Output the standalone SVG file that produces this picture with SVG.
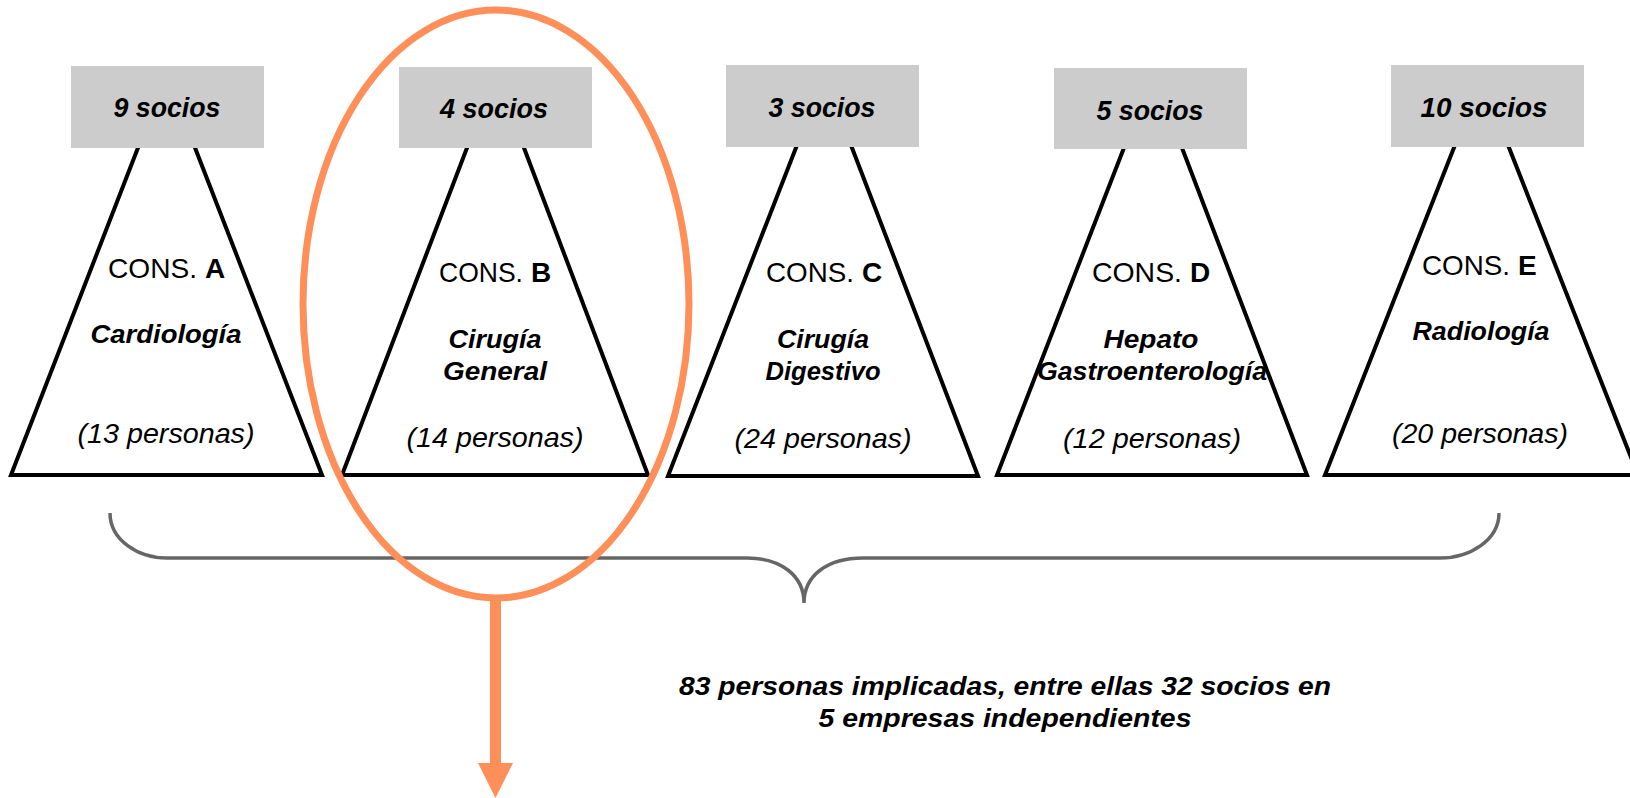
<svg xmlns="http://www.w3.org/2000/svg" width="1630" height="798" viewBox="0 0 1630 798">
  <style>
    .tri { fill: #ffffff; stroke: #000000; stroke-width: 4; stroke-linejoin: miter; }
    .box { fill: #cccccc; }
    .t { font-family: "Liberation Sans", Arial, sans-serif; fill: #000000; text-anchor: middle; }
    .s { font-family: "Liberation Sans", Arial, sans-serif; fill: #000000; text-anchor: start; }
    .soc { font-size: 27px; font-weight: bold; font-style: italic; }
    .cons { font-size: 28px; font-weight: normal; }
    .letter { font-size: 28px; font-weight: bold; }
    .name { font-size: 26px; font-weight: bold; font-style: italic; }
    .pers { font-size: 28px; font-style: italic; }
    .sum { font-size: 25px; font-weight: bold; font-style: italic; }
    .brace { fill: none; stroke: #666666; stroke-width: 3.5; }
    .hl { fill: none; stroke: #FF8F59; stroke-width: 7; }
  </style>
  <rect x="0" y="0" width="1630" height="798" fill="#ffffff"/>

  <g id="nodeA">
    <path class="tri" d="M141,140 L11,475 L322,475 L192,140"/>
    <rect class="box" x="71" y="66" width="193" height="82"/>
    <text class="t soc" x="167" y="117" textLength="107" lengthAdjust="spacingAndGlyphs">9 socios</text>
    <text class="s cons" x="108" y="278" textLength="89" lengthAdjust="spacingAndGlyphs">CONS.</text>
    <text class="s letter" x="205" y="278">A</text>
    <text class="t name" x="166" y="343" textLength="151" lengthAdjust="spacingAndGlyphs">Cardiología</text>
    <text class="t pers" x="166" y="443" textLength="177" lengthAdjust="spacingAndGlyphs">(13 personas)</text>
  </g>

  <g id="nodeB">
    <path class="tri" d="M470,140 L342,475 L648,475 L521,140"/>
    <rect class="box" x="399" y="67" width="193" height="81"/>
    <text class="t soc" x="494" y="118" textLength="108" lengthAdjust="spacingAndGlyphs">4 socios</text>
    <text class="s cons" x="439" y="282" textLength="84" lengthAdjust="spacingAndGlyphs">CONS.</text>
    <text class="s letter" x="531" y="282">B</text>
    <text class="t name" x="495" y="348" textLength="93" lengthAdjust="spacingAndGlyphs">Cirugía</text>
    <text class="t name" x="495" y="380" textLength="104" lengthAdjust="spacingAndGlyphs">General</text>
    <text class="t pers" x="495" y="447" textLength="177" lengthAdjust="spacingAndGlyphs">(14 personas)</text>
  </g>

  <g id="nodeC">
    <path class="tri" d="M799,140 L668,476 L978,476 L849,140"/>
    <rect class="box" x="726" y="65" width="193" height="82"/>
    <text class="t soc" x="822" y="117" textLength="107" lengthAdjust="spacingAndGlyphs">3 socios</text>
    <text class="s cons" x="766" y="282" textLength="88" lengthAdjust="spacingAndGlyphs">CONS.</text>
    <text class="s letter" x="862" y="282">C</text>
    <text class="t name" x="823" y="348" textLength="92" lengthAdjust="spacingAndGlyphs">Cirugía</text>
    <text class="t name" x="823" y="380" textLength="115" lengthAdjust="spacingAndGlyphs">Digestivo</text>
    <text class="t pers" x="823" y="448" textLength="177" lengthAdjust="spacingAndGlyphs">(24 personas)</text>
  </g>

  <g id="nodeD">
    <path class="tri" d="M1127,140 L997,475 L1307,475 L1179,140"/>
    <rect class="box" x="1054" y="68" width="193" height="81"/>
    <text class="t soc" x="1150" y="120" textLength="107" lengthAdjust="spacingAndGlyphs">5 socios</text>
    <text class="s cons" x="1092" y="282" textLength="90" lengthAdjust="spacingAndGlyphs">CONS.</text>
    <text class="s letter" x="1190" y="282">D</text>
    <text class="t name" x="1151" y="348" textLength="95" lengthAdjust="spacingAndGlyphs">Hepato</text>
    <text class="t name" x="1152" y="380" textLength="230" lengthAdjust="spacingAndGlyphs">Gastroenterología</text>
    <text class="t pers" x="1152" y="448" textLength="178" lengthAdjust="spacingAndGlyphs">(12 personas)</text>
  </g>

  <g id="nodeE">
    <path class="tri" d="M1457,140 L1325,475 L1638,475 L1506,140"/>
    <rect class="box" x="1391" y="65" width="193" height="82"/>
    <text class="t soc" x="1484" y="117" textLength="127" lengthAdjust="spacingAndGlyphs">10 socios</text>
    <text class="s cons" x="1422" y="275" textLength="88" lengthAdjust="spacingAndGlyphs">CONS.</text>
    <text class="s letter" x="1518" y="275">E</text>
    <text class="t name" x="1481" y="340" textLength="137" lengthAdjust="spacingAndGlyphs">Radiología</text>
    <text class="t pers" x="1480" y="443" textLength="176" lengthAdjust="spacingAndGlyphs">(20 personas)</text>
  </g>

  <g id="connectors">
    <path class="brace" d="M110,513 C110,540 138,558 167,558 L747,558 C780,558 804,575 804,603 C804,575 828,558 863,558 L1440,558 C1470,558 1499,540 1499,513"/>
    <ellipse class="hl" cx="496" cy="304" rx="193" ry="294"/>
    <line x1="495.5" y1="598" x2="495.5" y2="765" stroke="#FF8F59" stroke-width="11"/>
    <polygon points="478,763 513,763 495.5,798" fill="#FF8F59"/>
  </g>

  <g id="summary">
    <text class="t sum" x="1005" y="695" textLength="652" lengthAdjust="spacingAndGlyphs">83 personas implicadas, entre ellas 32 socios en</text>
    <text class="t sum" x="1005" y="727" textLength="373" lengthAdjust="spacingAndGlyphs">5 empresas independientes</text>
  </g>
</svg>
